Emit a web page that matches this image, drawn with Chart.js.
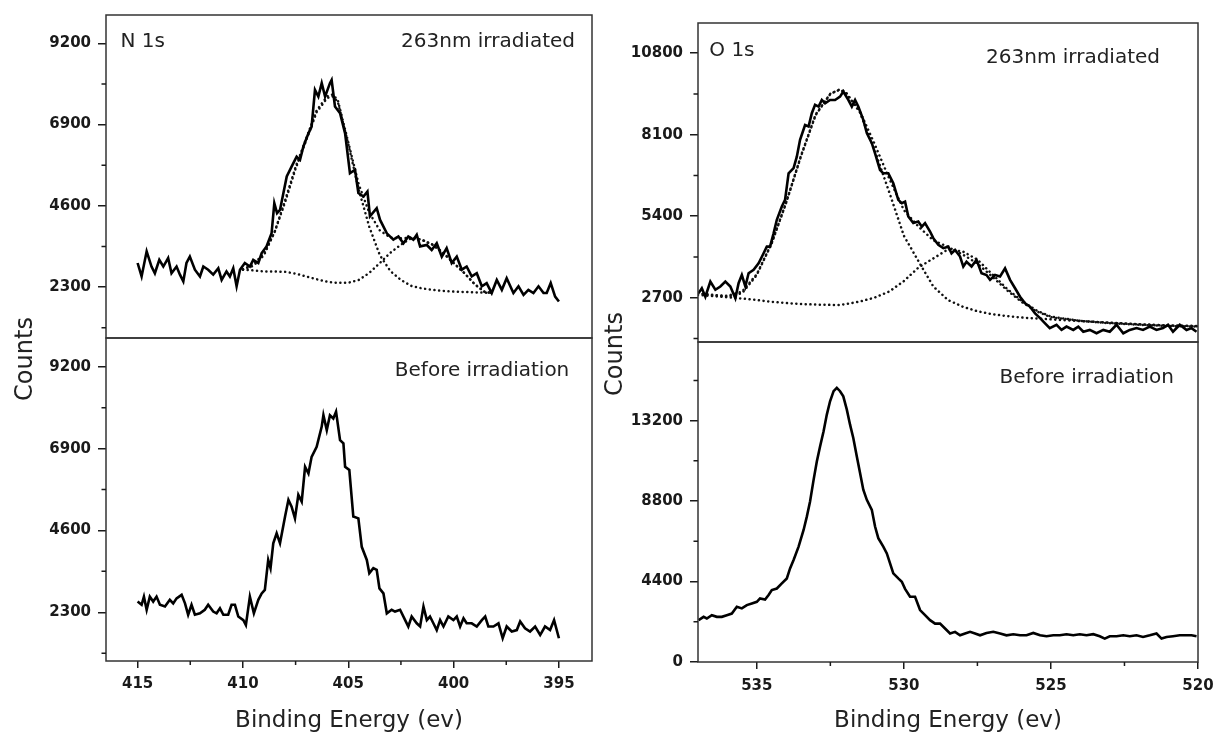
<!DOCTYPE html>
<html>
<head>
<meta charset="utf-8">
<script src="https://cdn.jsdelivr.net/npm/chart.js@4.4.1/dist/chart.umd.min.js"></script>
<style>
  body { margin: 0; background: #fff; width: 1215px; height: 733px; overflow: hidden; position: relative; font-family: "DejaVu Sans", sans-serif; }
  .box { position: absolute; }
  .ytitle { position: absolute; width: 120px; height: 30px; line-height: 30px; text-align: center; font-size: 24px; color: #222; transform: rotate(-90deg); }
</style>
</head>
<body>
<div class="box" style="left:0;top:-2px;width:600px;height:357px"><canvas id="nIrr"></canvas></div>
<div class="box" style="left:0;top:321px;width:600px;height:412px"><canvas id="nBef"></canvas></div>
<div class="box" style="left:600px;top:0;width:640px;height:359px"><canvas id="oIrr"></canvas></div>
<div class="box" style="left:600px;top:325px;width:640px;height:408px"><canvas id="oBef"></canvas></div>
<div class="ytitle" style="left:-36px;top:344px">Counts</div>
<div class="ytitle" style="left:554px;top:339px">Counts</div>
<script>
'use strict'

// ---- N 1s, 263nm irradiated (measured) ----
let nIrrE = [415.00, 414.81, 414.57, 414.34, 414.18, 413.97, 413.78, 413.55, 413.39, 413.15, 412.99, 412.83, 412.68, 412.52, 412.28, 412.04, 411.88, 411.65, 411.41, 411.17, 411.01, 410.78, 410.62, 410.46, 410.30, 410.14, 409.91, 409.67, 409.51, 409.27, 409.11, 408.88, 408.64, 408.51, 408.38, 408.24, 407.92, 407.69, 407.45, 407.29, 407.13, 406.89, 406.74, 406.58, 406.42, 406.26, 406.10, 405.87, 405.79, 405.63, 405.39, 405.15, 404.92, 404.68, 404.52, 404.28, 404.09, 403.97, 403.65, 403.49, 403.17, 402.86, 402.62, 402.38, 402.15, 401.91, 401.75, 401.59, 401.27, 401.04, 400.80, 400.56, 400.33, 400.09, 399.85, 399.61, 399.38, 399.14, 398.90, 398.66, 398.43, 398.19, 397.95, 397.71, 397.48, 397.16, 396.92, 396.68, 396.45, 396.21, 395.97, 395.73, 395.58, 395.39, 395.18, 395.00]
let nIrrCounts = [2980, 2600, 3310, 2880, 2690, 3070, 2880, 3120, 2690, 2880, 2650, 2460, 2980, 3160, 2790, 2600, 2880, 2790, 2650, 2830, 2500, 2740, 2600, 2830, 2320, 2790, 2980, 2880, 3070, 2980, 3260, 3450, 3820, 4670, 4390, 4480, 5430, 5710, 5990, 5900, 6280, 6650, 6840, 7880, 7690, 8070, 7690, 8070, 8160, 7410, 7220, 6650, 5520, 5620, 4960, 4860, 5000, 4300, 4530, 4200, 3820, 3640, 3730, 3540, 3730, 3640, 3780, 3450, 3490, 3350, 3540, 3160, 3400, 2980, 3160, 2790, 2880, 2600, 2690, 2320, 2410, 2130, 2500, 2220, 2550, 2130, 2320, 2080, 2220, 2130, 2320, 2130, 2130, 2410, 2030, 1890]

// ---- N 1s fit components ----
let nFitE = [410.0, 409.5, 409.0, 408.5, 408.0, 407.5, 407.0, 406.5, 406.0, 405.75, 405.5, 405.0, 404.5, 404.0, 403.5, 403.0, 402.5, 402.0, 401.5, 401.0, 400.5, 400.0, 399.5, 399.0, 398.5, 398.2]
let nFitPeak1 = [2800, 2900, 3200, 3850, 4700, 5650, 6450, 7250, 7650, 7700, 7550, 6350, 5050, 4000, 3200, 2750, 2500, 2330, 2260, 2220, 2190, 2170, 2160, 2150, 2140, 2140]
let nFitPeak2 = [2790, 2770, 2740, 2740, 2730, 2680, 2600, 2520, 2450, 2430, 2420, 2420, 2500, 2700, 2980, 3270, 3500, 3690, 3630, 3500, 3270, 2980, 2700, 2380, 2150, 2140]
let nFitSum = [2800, 2950, 3250, 3850, 4750, 5700, 6500, 7300, 7700, 7750, 7600, 6400, 5200, 4400, 3900, 3700, 3680, 3700, 3640, 3500, 3270, 2980, 2700, 2380, 2150, 2140]

// ---- N 1s, before irradiation ----
let nBefE = [415.00, 414.81, 414.70, 414.57, 414.42, 414.26, 414.10, 413.94, 413.70, 413.47, 413.31, 413.15, 412.91, 412.75, 412.60, 412.44, 412.28, 412.04, 411.81, 411.65, 411.41, 411.25, 411.09, 410.93, 410.70, 410.54, 410.38, 410.22, 409.98, 409.86, 409.67, 409.48, 409.27, 409.11, 408.96, 408.80, 408.69, 408.56, 408.40, 408.24, 408.00, 407.84, 407.69, 407.53, 407.37, 407.21, 407.05, 406.89, 406.74, 406.50, 406.26, 406.18, 406.02, 405.87, 405.71, 405.58, 405.39, 405.23, 405.15, 404.95, 404.76, 404.52, 404.36, 404.12, 404.00, 403.81, 403.65, 403.52, 403.33, 403.17, 402.94, 402.78, 402.54, 402.30, 402.15, 401.99, 401.75, 401.59, 401.43, 401.27, 401.12, 400.96, 400.80, 400.64, 400.48, 400.25, 400.01, 399.85, 399.69, 399.53, 399.38, 399.14, 398.90, 398.66, 398.50, 398.35, 398.11, 397.87, 397.67, 397.48, 397.24, 397.00, 396.84, 396.61, 396.37, 396.13, 395.89, 395.66, 395.42, 395.23, 395.00]
let nBefCounts = [2600, 2510, 2740, 2370, 2740, 2600, 2740, 2510, 2460, 2650, 2550, 2690, 2790, 2550, 2230, 2510, 2230, 2270, 2370, 2510, 2320, 2270, 2410, 2230, 2230, 2510, 2510, 2180, 2080, 1940, 2740, 2270, 2650, 2830, 2930, 3770, 3540, 4240, 4520, 4240, 4990, 5460, 5270, 4940, 5600, 5410, 6390, 6200, 6670, 6950, 7520, 7840, 7420, 7840, 7750, 7940, 7140, 7050, 6390, 6300, 4990, 4940, 4140, 3770, 3400, 3540, 3490, 2970, 2830, 2270, 2370, 2320, 2370, 2080, 1900, 2180, 1990, 1900, 2460, 2080, 2180, 1990, 1800, 2080, 1900, 2180, 2080, 2180, 1900, 2130, 1990, 1990, 1900, 2080, 2180, 1900, 1900, 1990, 1570, 1900, 1760, 1800, 2040, 1850, 1760, 1900, 1660, 1900, 1800, 2080, 1570]

// ---- O 1s, 263nm irradiated (measured) ----
let oIrrE = [536.98, 536.87, 536.75, 536.58, 536.41, 536.24, 536.07, 535.90, 535.73, 535.62, 535.51, 535.39, 535.28, 535.11, 534.94, 534.77, 534.66, 534.55, 534.43, 534.32, 534.15, 534.04, 533.92, 533.75, 533.64, 533.53, 533.36, 533.24, 533.13, 533.02, 532.90, 532.79, 532.68, 532.51, 532.34, 532.17, 532.06, 531.89, 531.77, 531.66, 531.55, 531.38, 531.26, 531.09, 530.98, 530.81, 530.70, 530.53, 530.36, 530.19, 530.07, 529.96, 529.85, 529.68, 529.51, 529.39, 529.28, 529.11, 529.00, 528.83, 528.66, 528.49, 528.38, 528.26, 528.09, 527.98, 527.87, 527.70, 527.53, 527.36, 527.19, 527.07, 526.90, 526.73, 526.56, 526.39, 526.22, 526.05, 525.88, 525.71, 525.54, 525.37, 525.20, 525.04, 524.81, 524.64, 524.47, 524.24, 524.07, 523.90, 523.68, 523.45, 523.22, 523.00, 522.77, 522.54, 522.32, 522.09, 521.87, 521.64, 521.41, 521.19, 521.02, 520.85, 520.62, 520.39, 520.22, 520.05]
let oIrrCounts = [2850, 3010, 2730, 3230, 2960, 3070, 3230, 3070, 2680, 3180, 3450, 3070, 3510, 3620, 3840, 4170, 4390, 4390, 4830, 5280, 5720, 5940, 6820, 6990, 7370, 7930, 8420, 8370, 8810, 9090, 9030, 9250, 9140, 9250, 9250, 9360, 9530, 9250, 9030, 9250, 9030, 8590, 8150, 7820, 7480, 6930, 6820, 6820, 6490, 5940, 5830, 5880, 5390, 5170, 5220, 5050, 5170, 4890, 4670, 4450, 4340, 4390, 4170, 4280, 4060, 3730, 3890, 3730, 3950, 3510, 3450, 3290, 3450, 3400, 3670, 3290, 3010, 2730, 2510, 2400, 2180, 2020, 1850, 1690, 1800, 1630, 1740, 1630, 1740, 1570, 1630, 1520, 1630, 1570, 1800, 1520, 1630, 1690, 1630, 1740, 1630, 1690, 1800, 1570, 1800, 1630, 1690, 1570]

// ---- O 1s fit components ----
let oFitE = [537.0, 536.5, 536.0, 535.5, 535.0, 534.5, 534.0, 533.5, 533.0, 532.5, 532.2, 532.0, 531.5, 531.0, 530.5, 530.0, 529.5, 529.0, 528.5, 528.0, 527.5, 527.0, 526.5, 526.0, 525.5, 525.0, 524.0, 523.0, 522.0, 521.0, 520.0]
let oFitPeak1 = [2840, 2780, 2730, 2850, 3450, 4480, 5850, 7380, 8750, 9450, 9580, 9520, 8850, 7600, 6200, 4750, 3900, 3070, 2620, 2400, 2250, 2150, 2090, 2040, 2010, 1980, 1920, 1870, 1820, 1780, 1760]
let oFitPeak2 = [2790, 2750, 2710, 2670, 2620, 2560, 2520, 2490, 2470, 2460, 2460, 2480, 2570, 2700, 2900, 3250, 3700, 4000, 4300, 4230, 3960, 3480, 3000, 2600, 2280, 2070, 1930, 1850, 1800, 1760, 1740]
let oFitSum = [2840, 2790, 2760, 2900, 3480, 4500, 5860, 7400, 8770, 9460, 9590, 9540, 8880, 7800, 6650, 5600, 5050, 4600, 4380, 4130, 3830, 3400, 2950, 2560, 2250, 2050, 1930, 1860, 1810, 1770, 1750]

// ---- O 1s, before irradiation ----
let oBefE = [536.98, 536.81, 536.70, 536.53, 536.36, 536.19, 536.02, 535.85, 535.68, 535.51, 535.34, 535.17, 535.00, 534.89, 534.72, 534.60, 534.49, 534.32, 534.15, 533.98, 533.87, 533.75, 533.58, 533.41, 533.30, 533.19, 533.07, 532.96, 532.85, 532.73, 532.62, 532.51, 532.39, 532.28, 532.17, 532.06, 531.94, 531.83, 531.72, 531.60, 531.49, 531.38, 531.26, 531.09, 530.98, 530.87, 530.70, 530.58, 530.47, 530.36, 530.19, 530.07, 529.96, 529.79, 529.62, 529.45, 529.28, 529.11, 528.94, 528.77, 528.60, 528.43, 528.26, 528.09, 527.92, 527.75, 527.58, 527.41, 527.19, 526.96, 526.73, 526.51, 526.28, 526.05, 525.83, 525.60, 525.37, 525.15, 524.92, 524.70, 524.47, 524.24, 524.02, 523.79, 523.56, 523.34, 523.17, 523.00, 522.77, 522.54, 522.32, 522.09, 521.87, 521.64, 521.41, 521.24, 521.07, 520.85, 520.62, 520.39, 520.22, 520.05]
let oBefCounts = [2290, 2470, 2380, 2560, 2470, 2470, 2560, 2650, 3020, 2930, 3110, 3200, 3290, 3480, 3420, 3660, 3930, 4020, 4300, 4570, 5120, 5580, 6310, 7220, 7950, 8780, 9960, 10970, 11790, 12620, 13530, 14260, 14810, 14990, 14810, 14530, 13800, 12980, 12250, 11240, 10330, 9420, 8870, 8320, 7410, 6770, 6310, 5940, 5390, 4850, 4570, 4390, 4000, 3570, 3570, 2840, 2560, 2290, 2100, 2100, 1830, 1560, 1650, 1460, 1560, 1650, 1560, 1460, 1590, 1650, 1560, 1460, 1520, 1460, 1460, 1590, 1460, 1410, 1460, 1460, 1520, 1460, 1520, 1460, 1520, 1410, 1280, 1410, 1410, 1460, 1410, 1460, 1370, 1460, 1560, 1280, 1370, 1410, 1460, 1460, 1460, 1410]

// ---- ticks ----
let nXTicks = [415, 410, 405, 400, 395]
let nXMinor = [412.5, 407.5, 402.5, 397.5]
let nYTicks = [2300, 4600, 6900, 9200]
let nYMinor = [1150, 3450, 5750, 8050]
let oXTicks = [535, 530, 525, 520]
let oXMinor = [532.5, 527.5, 522.5]
let oIrrYTicks = [2700, 5400, 8100, 10800]
let oIrrYMinor = [1350, 4050, 6750, 9450]
let oBefYTicks = [0, 4400, 8800, 13200]
let oBefYMinor = [2200, 6600, 11000, 15400]

const ink = '#1a1a1a'
const family = '"DejaVu Sans", sans-serif'
const tickFont = {family: family, size: 15, weight: 'bold'}

let pts = (xs, ys) => xs.map((x, i) => ({x: x, y: ys[i]}))

let solid = (xs, ys) => ({
    data: pts(xs, ys),
    borderColor: '#000',
    borderWidth: 2.6,
    pointRadius: 0,
    tension: 0
})

let dotted = (xs, ys) => ({
    data: pts(xs, ys),
    borderColor: '#111',
    borderWidth: 2.5,
    borderDash: [0.1, 4.6],
    borderCapStyle: 'round',
    pointRadius: 0,
    tension: 0
})

// frame box, minor ticks and the in-panel labels
let framePlugin = {
    id: 'frame',
    afterDraw(chart, args, opts) {
        let ctx = chart.ctx, a = chart.chartArea
        ctx.save()
        ctx.strokeStyle = '#333'
        ctx.lineWidth = 1.5
        ctx.strokeRect(a.left, a.top, a.right - a.left, a.bottom - a.top)

        ctx.strokeStyle = ink
        ctx.beginPath()
        opts.yMinor.forEach(v => {
            let y = chart.scales.y.getPixelForValue(v)
            ctx.moveTo(a.left - 4.5, y)
            ctx.lineTo(a.left, y)
        })
        if (opts.xMinor) {
            opts.xMinor.forEach(v => {
                let x = chart.scales.x.getPixelForValue(v)
                ctx.moveTo(x, a.bottom)
                ctx.lineTo(x, a.bottom + 4)
            })
        }
        ctx.stroke()

        ctx.fillStyle = '#222'
        ctx.font = '20px ' + family
        ctx.textBaseline = 'alphabetic'
        opts.texts.forEach(t => {
            ctx.textAlign = t.side
            let x = t.side === 'left' ? a.left + t.dx : a.right - t.dx
            ctx.fillText(t.text, x, a.top + t.dy)
        })
        ctx.restore()
    }
}

let panel = function (id, o) {
    return new Chart(document.getElementById(id), {
        type: 'line',
        data: {datasets: o.datasets},
        options: {
            responsive: true,
            maintainAspectRatio: false,
            animation: false,
            layout: {padding: o.padding},
            plugins: {
                legend: {display: false},
                tooltip: {enabled: false},
                frame: {yMinor: o.yMinor, xMinor: o.xMinor, texts: o.texts}
            },
            scales: {
                x: {
                    type: 'linear',
                    reverse: true,
                    min: o.xMin,
                    max: o.xMax,
                    display: o.xHeight > 0,
                    afterBuildTicks: s => { s.ticks = o.xTicks.map(v => ({value: v})) },
                    afterFit: s => { s.height = o.xHeight },
                    ticks: {callback: v => String(v), font: tickFont, color: ink, padding: o.xPad, maxRotation: 0, autoSkip: false},
                    grid: {drawOnChartArea: false, tickLength: 7, color: ink, lineWidth: 1.5},
                    border: {display: false},
                    title: {display: true, text: 'Binding Energy (ev)', color: '#222', padding: 0,
                        font: {family: family, size: 23, lineHeight: 1}}
                },
                y: {
                    type: 'linear',
                    min: o.yMin,
                    max: o.yMax,
                    afterBuildTicks: s => { s.ticks = o.yTicks.map(v => ({value: v})) },
                    afterFit: s => { s.width = o.yWidth },
                    ticks: {callback: v => String(v), font: tickFont, color: ink, padding: 7},
                    grid: {drawOnChartArea: false, tickLength: 8, color: ink, lineWidth: 1.5},
                    border: {display: false}
                }
            }
        },
        plugins: [framePlugin]
    })
}

panel('nIrr', {
    datasets: [solid(nIrrE, nIrrCounts), dotted(nFitE, nFitSum), dotted(nFitE, nFitPeak1), dotted(nFitE, nFitPeak2)],
    padding: {left: 0, top: 17, right: 8, bottom: 17},
    xMin: 393.43, xMax: 416.5, xTicks: nXTicks, xHeight: 0, xPad: 7,
    yMin: 857, yMax: 10000, yTicks: nYTicks, yMinor: nYMinor, yWidth: 106,
    texts: [{text: 'N 1s', side: 'left', dx: 14.5, dy: 31.7}, {text: '263nm irradiated', side: 'right', dx: 17, dy: 31.7}]
})

panel('nBef', {
    datasets: [solid(nBefE, nBefCounts)],
    padding: {left: 0, top: 17, right: 8, bottom: 0},
    xMin: 393.43, xMax: 416.5, xTicks: nXTicks, xMinor: nXMinor, xHeight: 72, xPad: 7,
    yMin: 930, yMax: 10010, yTicks: nYTicks, yMinor: nYMinor, yWidth: 106,
    texts: [{text: 'Before irradiation', side: 'right', dx: 22.7, dy: 37.7}]
})

panel('oIrr', {
    datasets: [solid(oIrrE, oIrrCounts), dotted(oFitE, oFitSum), dotted(oFitE, oFitPeak1), dotted(oFitE, oFitPeak2)],
    padding: {left: 0, top: 23, right: 42, bottom: 17},
    xMin: 520, xMax: 537, xTicks: oXTicks, xHeight: 0, xPad: 8,
    yMin: 1230, yMax: 11800, yTicks: oIrrYTicks, yMinor: oIrrYMinor, yWidth: 98,
    texts: [{text: 'O 1s', side: 'left', dx: 11.3, dy: 33}, {text: '263nm irradiated', side: 'right', dx: 38, dy: 39.7}]
})

panel('oBef', {
    datasets: [solid(oBefE, oBefCounts)],
    padding: {left: 0, top: 17, right: 42, bottom: 0},
    xMin: 520, xMax: 537, xTicks: oXTicks, xMinor: oXMinor, xHeight: 71, xPad: 8,
    yMin: 0, yMax: 17500, yTicks: oBefYTicks, yMinor: oBefYMinor, yWidth: 98,
    texts: [{text: 'Before irradiation', side: 'right', dx: 24, dy: 41.3}]
})
</script>
</body>
</html>
